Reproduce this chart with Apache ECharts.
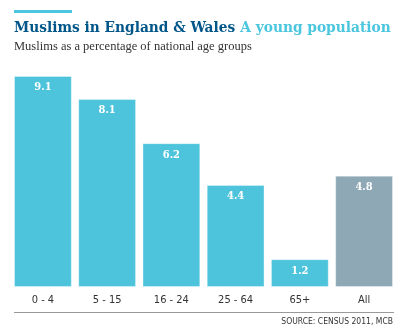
<!DOCTYPE html>
<html>
<head>
<meta charset="utf-8">
<script src="https://cdn.jsdelivr.net/npm/echarts@6/dist/echarts.min.js"></script>
<style>
  html, body { margin: 0; padding: 0; background: #fff; }
  #chart { width: 407px; height: 336px; }
</style>
</head>
<body>
<div id="chart"></div>
<script>
// Age groups and share of Muslims within each (per cent)
const categories = ['0 - 4', '5 - 15', '16 - 24', '25 - 64', '65+', 'All'];
const values = [9.1, 8.1, 6.2, 4.4, 1.2, 4.8];
const allIndex = 5;

const BLUE = '#4ec4dc';
const GREY = '#8fa8b5';

const chart = echarts.init(document.getElementById('chart'), null, { renderer: 'canvas' });

chart.setOption({
  backgroundColor: '#fff',
  animation: false,
  title: [{
    left: 14, top: 19, padding: 0,
    text: '{a|Muslims in England & Wales} {b|A young population}',
    textStyle: {
      rich: {
        a: { fontFamily: 'DejaVu Serif Condensed', fontWeight: 'bold', fontSize: 15.3, color: '#005689' },
        b: { fontFamily: 'DejaVu Serif Condensed', fontWeight: 'bold', fontSize: 15.3, color: '#4bc6df' }
      }
    }
  }, {
    left: 14, top: 40, padding: 0,
    text: 'Muslims as a percentage of national age groups',
    textStyle: { fontFamily: 'Liberation Serif', fontWeight: 'normal', fontSize: 12.5, color: '#333' }
  }, {
    right: 14, top: 317, padding: 0,
    text: 'SOURCE: CENSUS 2011, MCB',
    textStyle: { fontFamily: 'DejaVu Sans Condensed', fontWeight: 'normal', fontSize: 8.5, color: '#333' }
  }],
  graphic: [
    { type: 'rect', shape: { x: 14, y: 10, width: 58, height: 3 }, style: { fill: '#4bc6df' } },
    { type: 'line', shape: { x1: 14, y1: 312.5, x2: 394, y2: 312.5 }, style: { stroke: '#999', lineWidth: 1 } }
  ],
  grid: { left: 10.8, right: 10.8, top: 55, bottom: 49 },
  xAxis: {
    type: 'category',
    data: categories,
    axisLine: { show: false },
    axisTick: { show: false },
    axisLabel: { margin: 8, fontFamily: 'DejaVu Sans Condensed', fontSize: 11, color: '#333' }
  },
  yAxis: {
    type: 'value', min: 0, max: 10,
    show: false, splitLine: { show: false }
  },
  series: [{
    type: 'bar',
    barCategoryGap: '10%',
    data: values.map((v, i) => ({
      value: v,
      itemStyle: { color: i === allIndex ? GREY : BLUE }
    })),
    itemStyle: { borderColor: 'rgba(255,255,255,0.35)', borderWidth: 1 },
    label: {
      show: true, position: 'insideTop', distance: 6,
      formatter: p => p.value.toFixed(1),
      fontFamily: 'DejaVu Serif Condensed', fontWeight: 'bold', fontSize: 11, color: '#fff'
    }
  }]
});
</script>
</body>
</html>
